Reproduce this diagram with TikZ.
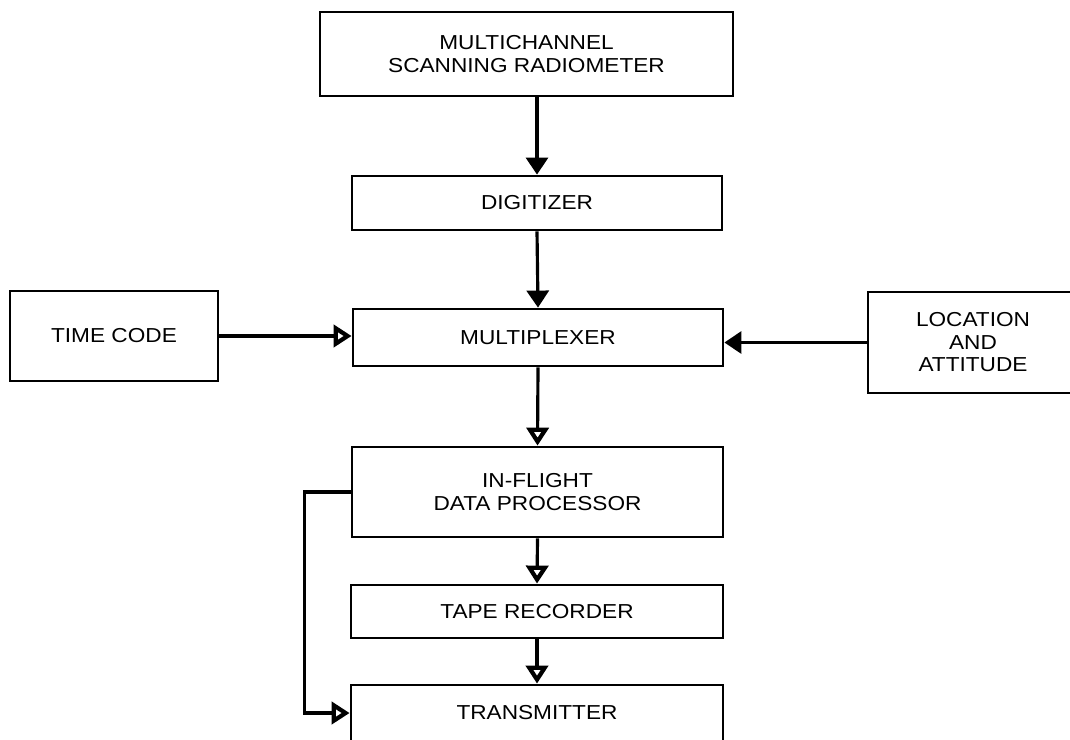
\documentclass[tikz,border=0pt]{standalone}
\usepackage{fontspec}
\setmainfont{Liberation Sans}[FakeStretch=1.12]
\usetikzlibrary{arrows.meta}

\begin{document}
\begin{tikzpicture}[
    block/.style={draw, line width=1.6pt, align=center, inner sep=0pt,
                  font=\fontsize{11.5}{12.8}\selectfont},
    filled arrow/.style={line width=1.8pt, -{Triangle[width=0.44cm,length=0.34cm]}},
    open arrow/.style={line width=1.8pt, -{Triangle[open,line width=2.4pt,width=0.44cm,length=0.36cm]}}
  ]
    \useasboundingbox (0,0) rectangle (21.4,-14.78);
    \node[block, minimum width=8.26cm, minimum height=1.68cm] (radiometer)  at (10.53,-1.08)  {MULTICHANNEL\\SCANNING RADIOMETER};
    \node[block, minimum width=7.40cm, minimum height=1.08cm] (digitizer)   at (10.74,-4.06)  {DIGITIZER};
    \node[block, minimum width=7.40cm, minimum height=1.14cm] (multiplexer) at (10.76,-6.75)  {MULTIPLEXER};
    \node[block, minimum width=4.16cm, minimum height=1.80cm] (time code)   at (2.28,-6.72)   {TIME CODE};
    \node[block, minimum width=4.20cm, minimum height=2.02cm] (location)    at (19.46,-6.85)  {LOCATION\\AND\\ATTITUDE};
    \node[block, minimum width=7.42cm, minimum height=1.80cm] (processor)   at (10.75,-9.84)  {IN-FLIGHT\\DATA PROCESSOR};
    \node[block, minimum width=7.44cm, minimum height=1.06cm] (tape)        at (10.74,-12.23) {TAPE RECORDER};
    \node[block, minimum width=7.44cm, minimum height=1.12cm] (transmitter) at (10.74,-14.26) {TRANSMITTER};
    \draw[filled arrow] (digitizer.north |- radiometer.south) -- (digitizer.north);
    \draw[filled arrow] (digitizer.south) -- (multiplexer.north);
    \draw[open arrow] (time code.east) -- (time code.east -| multiplexer.west);
    \draw[filled arrow] (location.west) -- (location.west -| multiplexer.east);
    \draw[open arrow] (multiplexer.south) -- (processor.north);
    \draw[open arrow] (processor.south) -- (tape.north);
    \draw[open arrow] (tape.south) -- (transmitter.north);
    \draw[open arrow] (processor.west) -- ++(-0.92,0) |- (transmitter.west);
\end{tikzpicture}
\end{document}
